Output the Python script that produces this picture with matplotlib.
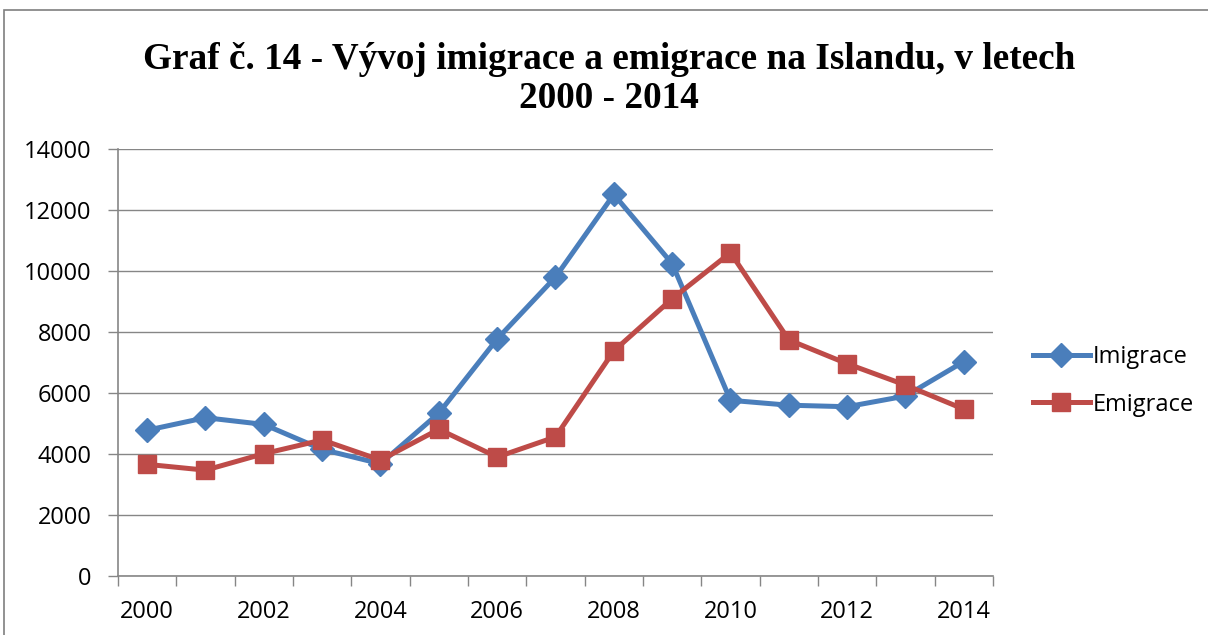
import matplotlib
matplotlib.use("Agg")
import matplotlib.pyplot as plt
from matplotlib.patches import Rectangle

years = list(range(2000, 2015))
imigrace = [4780, 5190, 4970, 4150, 3680, 5340, 7770, 9800, 12510, 10240, 5760, 5600, 5550, 5900, 7030]
emigrace = [3660, 3470, 4010, 4460, 3800, 4810, 3900, 4560, 7380, 9090, 10600, 7740, 6960, 6260, 5470]
tick_years = [2000, 2002, 2004, 2006, 2008, 2010, 2012, 2014]
title = "Graf č. 14 - Vývoj imigrace a emigrace na Islandu, v letech\n2000 - 2014"

W, H = 1208, 635
fig = plt.figure(figsize=(W / 100, H / 100), dpi=100)
fig.patch.set_facecolor("white")

# chart border (only top and left visible in crop)
fig.patches.append(Rectangle((4 / W, -0.1), 1.2, (H - 10) / H + 0.1, transform=fig.transFigure,
                             fill=False, edgecolor="#7f7f7f", linewidth=1.2))

ax = fig.add_axes([118 / W, (H - 576) / H, (993 - 118) / W, (576 - 149) / H])
x = list(range(len(years)))
blue = "#4A7EBB"
red = "#BE4B48"
ax.plot(x, imigrace, color=blue, lw=3.6, marker="D", markersize=12.5, label="Imigrace", zorder=3)
ax.plot(x, emigrace, color=red, lw=3.6, marker="s", markersize=13.5, label="Emigrace", zorder=4)

ax.set_xlim(-0.5, len(years) - 0.5)
ax.set_ylim(0, 14000)
ax.set_yticks(range(0, 14001, 2000))
ax.yaxis.grid(True, color="#868686", lw=1.0)
ax.set_axisbelow(True)

ax.set_xticks([i - 0.5 for i in range(len(years) + 1)])
ax.set_xticklabels([])
ax.set_xticks([years.index(y) for y in tick_years], minor=True)
ax.set_xticklabels([str(y) for y in tick_years], minor=True)
ax.tick_params(axis="x", which="major", length=7, color="#868686", width=1)
ax.tick_params(axis="x", which="minor", length=0, pad=17)
ax.tick_params(axis="y", length=7, color="#868686", width=1, pad=12)
for lab in ax.get_xticklabels(minor=True) + ax.get_yticklabels():
    lab.set_fontfamily("Open Sans")
    lab.set_fontsize(17)

for s in ["top", "right"]:
    ax.spines[s].set_visible(False)
for s in ["left", "bottom"]:
    ax.spines[s].set_color("#868686")
    ax.spines[s].set_linewidth(1.2)

fig.text(609 / W, 1 - 79 / H, title, ha="center", va="center", fontfamily="Liberation Serif",
         fontweight="bold", fontsize=26.8, linespacing=1.15)

leg = fig.legend(loc="center left", bbox_to_anchor=(1033 / W, 1 - 381 / H), frameon=False,
                 prop={"family": "Open Sans", "size": 17}, handlelength=2.4, handletextpad=0.13,
                 labelspacing=0.98, borderpad=0, borderaxespad=0)

fig.savefig("out.png", dpi=100)
